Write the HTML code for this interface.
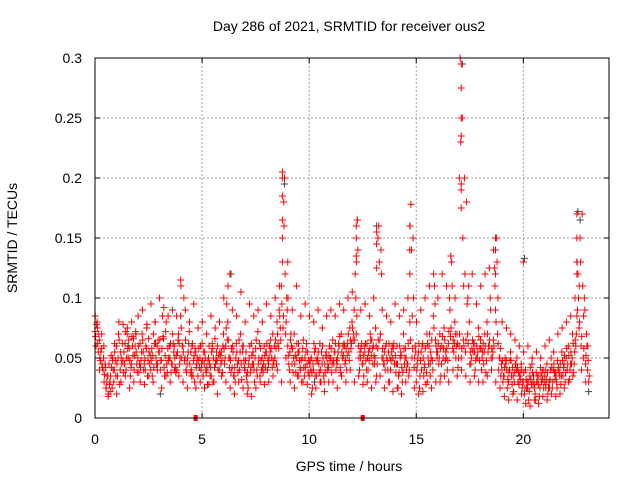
<!DOCTYPE html>
<html><head><meta charset="utf-8"><style>
body{margin:0;background:#fff;}
svg{display:block;font-family:"Liberation Sans",sans-serif;}
</style></head><body>
<svg id="chart" width="640" height="480" viewBox="0 0 640 480">
<rect x="0" y="0" width="640" height="480" fill="#fff"/>
<g id="grid"></g>
<g id="marks"></g>
<rect x="95" y="58" width="514" height="360" fill="none" stroke="#000" stroke-width="1"/>
<g id="ticks"></g>
<text x="349" y="31" text-anchor="middle" font-size="14">Day 286 of 2021, SRMTID for receiver ous2</text>
<text x="349" y="471" text-anchor="middle" font-size="14">GPS time / hours</text>
<text x="0" y="0" transform="translate(17,238) rotate(-90)" text-anchor="middle" font-size="14">SRMTID / TECUs</text>
</svg>
<script>
const xTicks=[0,5,10,15,20];
const yTicks=[0,0.05,0.1,0.15,0.2,0.25,0.3];
const yTickLabels=["0","0.05","0.1","0.15","0.2","0.25","0.3"];
const seriesAValues=[
.072,.080,.065,.058,.050,.042,.035,.030,.025,.040,
.060,.070,.055,.048,.062,.070,.058,.045,.066,.072,
.050,.062,.070,.045,.058,.066,.040,.052,.080,.060,
.055,.048,.066,.072,.058,.050,.045,.060,.052,.070,
.085,.060,.050,.045,.072,.040,.048,.055,.035,.050,
.062,.045,.038,.050,.042,.058,.066,.048,.040,.055,
.070,.060,.080,.050,.042,.035,.062,.048,.070,.055,
.040,.030,.050,.062,.045,.058,.072,.035,.050,.060,
.055,.045,.065,.070,.050,.080,.090,.110,.085,.070,
.060,.055,.045,.070,.050,.062,.040,.058,.050,.045,
.035,.050,.040,.058,.048,.062,.045,.030,.055,.042,
.050,.065,.055,.045,.060,.070,.052,.048,.062,.075,
.080,.090,.070,.060,.050,.045,.055,.062,.048,.052,
.060,.075,.058,.065,.050,.045,.062,.055,.040,.050,
.045,.060,.038,.052,.070,.058,.045,.080,.050,.042,
.030,.055,.048,.062,.045,.070,.060,.050,.085,.065,
.055,.070,.060,.075,.050,.062,.068,.058,.080,.070,
.060,.050,.065,.055,.070,.045,.058,.062,.050,.075,
.065,.055,.070,.080,.060,.050,.065,.090,.070,.050,
.040,.035,.048,.030,.055,.042,.038,.050,.028,.045,
.030,.040,.025,.035,.045,.030,.038,.028,.042,.032,
.035,.045,.030,.050,.040,.038,.048,.035,.055,.045,
.050,.060,.045,.070,.055,.085,.075,.060,.050,.045,
.040];
const seriesBValues=[
.060,.055,.048,.042,.036,.030,.045,.052,.040,.048,
.035,.028,.045,.055,.040,.050,.035,.060,.052,.045,
.038,.048,.055,.040,.035,.045,.058,.042,.050,.065,
.040,.085,.035,.045,.050,.038,.062,.042,.055,.045,
.050,.100,.040,.055,.038,.062,.030,.045,.058,.040,
.035,.050,.028,.045,.055,.030,.048,.040,.052,.038,
.045,.095,.050,.038,.055,.030,.045,.040,.032,.048,
.055,.025,.038,.045,.030,.040,.050,.048,.038,.042,
.040,.060,.050,.045,.058,.062,.075,.130,.200,.100,
.045,.070,.038,.052,.035,.048,.030,.042,.055,.038,
.048,.025,.055,.035,.045,.030,.050,.038,.040,.060,
.038,.045,.040,.055,.042,.050,.060,.040,.055,.058,
.065,.120,.165,.040,.062,.035,.048,.040,.070,.058,
.045,.035,.160,.140,.050,.040,.048,.030,.055,.062,
.038,.025,.050,.030,.045,.040,.035,.178,.150,.060,
.045,.025,.040,.035,.028,.050,.035,.048,.110,.055,
.045,.035,.050,.048,.040,.100,.130,.055,.050,.042,
.300,.250,.200,.180,.110,.045,.055,.040,.050,.048,
.040,.045,.038,.055,.100,.050,.125,.150,.040,.035,
.030,.050,.025,.040,.035,.022,.045,.030,.038,.025,
.020,.025,.015,.032,.028,.020,.035,.018,.030,.025,
.028,.020,.032,.025,.038,.030,.042,.028,.035,.030,
.040,.032,.045,.038,.060,.120,.150,.170,.100,.070,
.030];
const seriesCValues=[
.068,.062,.050,.045,.030,.025,.020,.035,.048,.055,
.045,.065,.050,.038,.072,.058,.048,.068,.040,.055,
.060,.042,.065,.050,.078,.055,.048,.070,.062,.045,
.065,.058,.042,.080,.048,.062,.070,.050,.040,.062,
.075,.055,.065,.050,.045,.060,.052,.042,.048,.060,
.048,.055,.042,.060,.035,.050,.045,.060,.055,.048,
.058,.075,.065,.048,.060,.042,.055,.065,.045,.060,
.048,.038,.060,.052,.040,.065,.045,.058,.042,.052,
.062,.050,.058,.048,.065,.070,.085,.095,.160,.080,
.052,.065,.058,.045,.062,.055,.048,.065,.042,.055,
.045,.038,.062,.048,.055,.040,.060,.045,.050,.052,
.058,.048,.062,.050,.068,.055,.062,.058,.070,.065,
.075,.065,.085,.050,.058,.052,.062,.050,.058,.065,
.052,.060,.065,.070,.058,.055,.050,.062,.048,.058,
.052,.045,.060,.042,.058,.050,.062,.065,.058,.050,
.040,.062,.055,.050,.058,.062,.070,.065,.075,.060,
.062,.058,.068,.065,.058,.072,.075,.065,.070,.062,
.070,.058,.060,.065,.062,.055,.065,.055,.060,.068,
.058,.062,.060,.070,.065,.058,.060,.080,.062,.058,
.048,.042,.040,.038,.048,.035,.045,.042,.035,.040,
.038,.032,.030,.042,.038,.025,.030,.035,.035,.040,
.040,.038,.025,.042,.045,.035,.040,.045,.048,.052,
.058,.052,.055,.062,.065,.090,.080,.068,.058,.052,
.048];
const seriesDValues=[
.078,.070,.055,.040,.045,.035,.028,.042,.030,.035,
.050,.040,.062,.045,.050,.065,.042,.052,.060,.038,
.045,.055,.040,.060,.048,.052,.035,.062,.045,.055,
.048,.068,.052,.038,.060,.045,.055,.038,.065,.050,
.060,.048,.038,.062,.055,.035,.058,.050,.042,.045,
.055,.040,.048,.035,.062,.042,.055,.052,.045,.060,
.050,.065,.042,.058,.035,.050,.038,.055,.060,.042,
.035,.045,.042,.055,.050,.035,.062,.040,.045,.055,
.048,.055,.042,.060,.045,.058,.065,.075,.120,.090,
.040,.060,.050,.038,.055,.042,.050,.035,.062,.048,
.040,.045,.035,.050,.038,.055,.035,.052,.045,.048,
.045,.055,.048,.062,.038,.060,.045,.052,.048,.062,
.070,.100,.140,.055,.045,.060,.040,.055,.065,.045,
.050,.045,.130,.120,.045,.060,.040,.050,.060,.045,
.045,.035,.055,.038,.050,.045,.040,.140,.100,.055,
.050,.035,.060,.042,.038,.045,.055,.040,.095,.050,
.050,.045,.058,.055,.048,.090,.110,.062,.060,.050,
.230,.150,.120,.095,.080,.050,.062,.048,.055,.058,
.050,.055,.048,.060,.090,.055,.110,.130,.050,.045,
.035,.045,.032,.048,.028,.030,.040,.038,.032,.030,
.025,.030,.022,.028,.035,.015,.030,.025,.038,.030,
.032,.025,.040,.030,.032,.025,.038,.035,.042,.038,
.045,.040,.050,.045,.070,.100,.130,.110,.090,.060,
.035];
const seriesEValues=[
.085,.075,.040,.070,.060,.025,.018,.022,.050,.062,
.020,.080,.030,.078,.035,.075,.025,.080,.030,.070,
.085,.030,.090,.028,.075,.035,.095,.030,.080,.040,
.100,.025,.092,.035,.085,.030,.090,.040,.085,.035,
.110,.030,.090,.025,.080,.035,.095,.025,.075,.030,
.080,.025,.070,.028,.085,.030,.075,.020,.080,.035,
.100,.030,.110,.025,.090,.020,.085,.030,.105,.025,
.080,.020,.095,.018,.085,.025,.090,.030,.080,.028,
.095,.030,.085,.035,.100,.040,.110,.030,.180,.050,
.100,.030,.090,.025,.110,.035,.085,.030,.095,.028,
.085,.020,.080,.025,.090,.030,.075,.022,.085,.030,
.090,.030,.085,.025,.095,.035,.090,.030,.100,.040,
.105,.030,.130,.035,.090,.028,.095,.030,.085,.025,
.100,.030,.150,.035,.090,.025,.085,.030,.080,.022,
.095,.025,.085,.020,.090,.030,.100,.160,.085,.025,
.080,.020,.090,.022,.100,.030,.110,.025,.120,.030,
.100,.030,.120,.035,.110,.030,.135,.040,.100,.035,
.200,.040,.110,.035,.100,.030,.120,.035,.095,.030,
.110,.030,.120,.035,.125,.040,.140,.030,.100,.025,
.080,.018,.075,.015,.070,.020,.065,.015,.060,.020,
.055,.012,.060,.010,.050,.015,.055,.012,.050,.018,
.060,.015,.065,.020,.055,.018,.070,.020,.075,.025,
.080,.030,.085,.035,.100,.130,.110,.040,.085,.030,
.060];
const spikeTimes=[8.75,8.75,8.75,8.75,8.75,9.0,12.2,12.2,12.2,13.15,13.15,13.15,14.7,14.7,14.7,17.1,17.1,17.1,17.1,17.1,17.1,17.1,18.7,18.7,18.7,22.5,22.5,22.5,22.5,20.0,6.3,4.0];
const spikeValues=[.205,.200,.185,.165,.150,.130,.160,.150,.135,.155,.145,.125,.160,.140,.120,.295,.275,.250,.235,.195,.190,.175,.150,.140,.120,.170,.150,.130,.120,.130,.120,.115];
const blackTimes=[6.3,8.8,12.2,13.1,17.1,20.0,22.5,22.6,1.5,3.0,10.2,15.6,19.3,21.0,23.0];
const blackValues=[.120,.195,.165,.160,.295,.133,.172,.165,.060,.020,.030,.045,.040,.025,.022];
const gapTimes=[4.7,12.5];
const gapValues=[0,0];

const NS="http://www.w3.org/2000/svg";
const X0=95,X1=609,Y0=418,Y1=58,XMAX=24,YMAX=0.3;
function xs(t){return X0+(X1-X0)*t/XMAX;}
function ys(v){return Y0-(Y0-Y1)*v/YMAX;}
function mk(tag,attrs,parent){const e=document.createElementNS(NS,tag);for(const k in attrs)e.setAttribute(k,attrs[k]);parent.appendChild(e);return e;}
const grid=document.getElementById('grid'),ticks=document.getElementById('ticks'),marks=document.getElementById('marks');
xTicks.forEach((t,i)=>{
  const x=xs(t);
  if(t>0){const g=mk('line',{x1:x,x2:x,y1:Y1,y2:Y0,stroke:'#a0a0a0','stroke-dasharray':'2,2'},grid);
  
  }
  const tk=mk('path',{d:`M${x},${Y0}v-5M${x},${Y1}v5`,stroke:'#000'},ticks);
  
  
  const l=mk('text',{x:x,y:Y0+26,'text-anchor':'middle','font-size':14},ticks);l.textContent=String(t);
  
  
});
yTicks.forEach((v,i)=>{
  const y=ys(v);
  if(v>0&&v<YMAX){const g=mk('line',{x1:X0,x2:X1,y1:y,y2:y,stroke:'#a0a0a0','stroke-dasharray':'2,2'},grid);
  
  }
  const tk=mk('path',{d:`M${X0},${y}h5M${X1},${y}h-5`,stroke:'#000'},ticks);
  
  
  const l=mk('text',{x:X0-13,y:y+5,'text-anchor':'end','font-size':14},ticks);l.textContent=yTickLabels[i];
  
  
});
function cross(t,v,color,name){
  const x=xs(t),y=ys(v);
  const p=mk('path',{d:`M${x-3.5},${y}h7M${x},${y-3.5}v7`,stroke:color,'stroke-width':1,fill:'none'},marks);
  
  
}
blackTimes.forEach((t,i)=>cross(t+0.05,blackValues[i],'#404040','black-point'));
seriesAValues.forEach((v,i)=>cross(i*0.1,v,'#ff0000','red-point'));
seriesBValues.forEach((v,i)=>cross(i*0.1+0.05,v,'#ff0000','red-point'));
seriesCValues.forEach((v,i)=>cross(i*0.1+0.025,v,'#ff0000','red-point'));
seriesDValues.forEach((v,i)=>cross(i*0.1+0.075,v,'#ff0000','red-point'));
seriesEValues.forEach((v,i)=>cross(i*0.1+0.0125,v,'#ff0000','red-point'));
spikeTimes.forEach((t,i)=>cross(t,spikeValues[i],'#ff0000','spike-point'));
gapTimes.forEach((t,i)=>{
  const r=mk('rect',{x:xs(t)-2,y:ys(gapValues[i])-3,width:4,height:6,fill:'#ff0000'},marks);
  
  
});
</script>
</body></html>
